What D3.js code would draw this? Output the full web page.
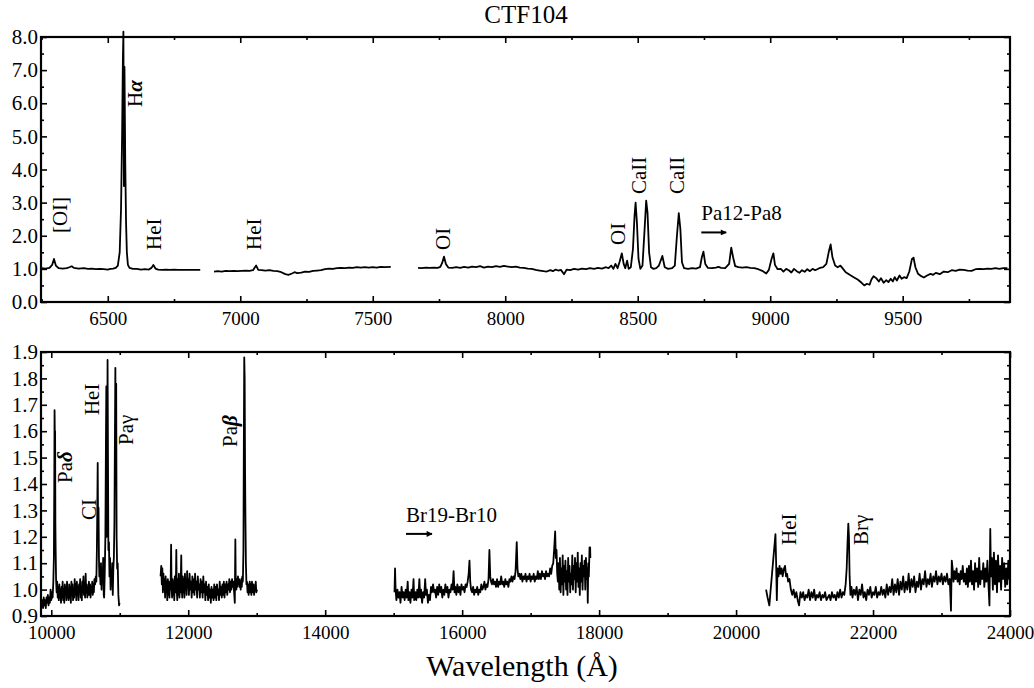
<!DOCTYPE html>
<html><head><meta charset="utf-8">
<script src="https://cdn.jsdelivr.net/npm/d3@7"></script>
<style>
body{margin:0;background:#fff}
text{font-family:"Liberation Serif","Times New Roman",serif;fill:#000}
</style>
</head><body>
<svg id="c" width="1034" height="688"></svg>
<script>
// ---------------- DATA ----------------
// Optical spectrum (top panel): [wavelength (Å), normalised flux]
const opticalSeg1 = [[6250,1.02],[6265,1.01],[6280,1.03],[6290,1.12],[6297,1.30],[6304,1.10],[6315,1.02],[6330,1.01],[6345,1.02],[6355,1.05],[6364,1.08],[6372,1.03],[6390,1.01],[6410,1.02],[6425,1.00],[6440,1.01],[6455,0.99],[6470,1.00],[6485,0.99],[6500,0.98],[6510,1.00],[6520,1.01],[6530,1.03],[6538,1.10],[6545,1.5],[6550,2.8],[6554,5.0],[6557,7.3],[6559,8.16],[6561,3.5],[6563,7.1],[6566,4.2],[6569,2.4],[6572,1.5],[6576,1.12],[6582,1.03],[6595,1.00],[6610,1.00],[6625,0.98],[6640,0.99],[6655,0.98],[6665,1.03],[6672,1.12],[6680,1.01],[6690,0.98],[6705,0.97],[6720,0.98],[6735,0.97],[6750,0.98],[6765,0.97],[6780,0.97],[6800,0.97],[6820,0.97],[6849,0.97]];
const opticalSeg2 = [[6901,0.92],[6915,0.93],[6930,0.92],[6945,0.94],[6960,0.93],[6975,0.94],[6990,0.93],[7005,0.94],[7020,0.95],[7035,0.94],[7048,0.96],[7060,1.10],[7068,0.97],[7080,0.96],[7095,0.95],[7110,0.96],[7125,0.94],[7140,0.93],[7155,0.90],[7170,0.84],[7182,0.82],[7195,0.86],[7205,0.90],[7215,0.87],[7230,0.89],[7245,0.92],[7260,0.91],[7275,0.94],[7290,0.95],[7305,0.96],[7320,0.99],[7335,1.01],[7350,1.00],[7365,1.02],[7380,1.03],[7395,1.02],[7410,1.04],[7425,1.03],[7440,1.05],[7455,1.04],[7470,1.05],[7485,1.04],[7500,1.05],[7515,1.04],[7530,1.06],[7545,1.05],[7568,1.06]];
const opticalSeg3 = [[7671,1.03],[7685,1.02],[7700,1.04],[7715,1.03],[7730,1.04],[7745,1.03],[7755,1.06],[7762,1.18],[7769,1.37],[7776,1.15],[7785,1.04],[7800,1.03],[7815,1.05],[7830,1.03],[7845,1.06],[7860,1.04],[7875,1.07],[7890,1.05],[7905,1.08],[7920,1.04],[7935,1.07],[7950,1.05],[7965,1.08],[7980,1.06],[7995,1.09],[8010,1.07],[8025,1.05],[8040,1.07],[8055,1.04],[8070,1.03],[8085,1.01],[8100,1.00],[8115,0.97],[8130,0.95],[8145,0.93],[8157,0.92],[8170,0.96],[8180,0.93],[8190,0.98],[8200,0.95],[8210,0.97],[8222,0.84],[8232,0.98],[8245,0.96],[8260,1.00],[8275,0.98],[8290,1.01],[8305,0.99],[8320,1.02],[8335,1.00],[8350,1.03],[8365,1.01],[8380,1.05],[8390,1.02],[8400,1.10],[8408,1.00],[8416,1.15],[8424,1.02],[8432,1.22],[8440,1.47],[8447,1.15],[8453,1.02],[8460,1.25],[8466,1.00],[8474,1.05],[8482,1.6],[8488,2.6],[8492,3.0],[8497,2.4],[8503,1.3],[8510,1.00],[8518,1.1],[8526,2.2],[8532,3.06],[8537,2.7],[8543,1.5],[8550,1.05],[8560,1.00],[8570,1.02],[8580,1.10],[8593,1.39],[8602,1.05],[8615,1.00],[8630,1.02],[8640,1.1],[8648,2.0],[8655,2.68],[8661,2.2],[8667,1.2],[8675,1.02],[8690,1.00],[8705,1.02],[8720,1.01],[8735,1.05],[8742,1.35],[8748,1.52],[8755,1.15],[8765,1.03],[8780,1.02],[8795,1.04],[8805,1.06],[8815,1.03],[8830,1.02],[8845,1.15],[8853,1.64],[8860,1.35],[8868,1.08],[8880,1.05],[8895,1.04],[8910,1.05],[8925,1.03],[8940,1.02],[8955,0.99],[8970,0.94],[8985,0.86],[8995,0.97],[9005,1.30],[9012,1.47],[9018,1.12],[9028,0.99],[9040,1.00],[9050,0.92],[9060,1.00],[9070,0.96],[9080,0.89],[9090,1.00],[9100,0.93],[9110,0.88],[9120,0.96],[9130,0.91],[9140,0.99],[9150,0.93],[9160,1.00],[9170,0.96],[9185,1.02],[9200,1.05],[9212,1.15],[9222,1.55],[9228,1.74],[9235,1.35],[9245,1.10],[9255,1.05],[9265,1.10],[9275,1.00],[9285,0.90],[9300,0.82],[9315,0.75],[9330,0.68],[9345,0.58],[9355,0.50],[9365,0.55],[9375,0.52],[9382,0.68],[9390,0.78],[9400,0.72],[9410,0.62],[9418,0.72],[9428,0.58],[9438,0.66],[9446,0.60],[9455,0.70],[9463,0.62],[9470,0.75],[9478,0.65],[9488,0.80],[9496,0.70],[9505,0.75],[9515,0.72],[9525,0.92],[9535,1.30],[9541,1.34],[9548,1.05],[9558,0.85],[9570,0.78],[9580,0.74],[9592,0.80],[9605,0.85],[9615,0.82],[9625,0.88],[9640,0.84],[9655,0.92],[9670,0.90],[9685,0.96],[9700,0.94],[9715,0.98],[9730,0.97],[9745,0.95],[9760,0.94],[9775,0.99],[9790,1.00],[9805,0.99],[9820,1.01],[9835,1.00],[9850,1.02],[9865,1.00],[9880,1.02],[9895,1.02]];

// Near-infrared spectrum (bottom panel)
const nirSegA = [[9850,0.95],[9860,0.94],[9870,0.96],[9880,0.93],[9890,0.97],[9900,0.94],[9910,0.96],[9920,0.93],[9930,0.97],[9940,0.95],[9950,0.98],[9960,0.94],[9970,0.97],[9980,0.95],[9990,1.00],[10000,0.96],[10010,0.99],[10020,0.97],[10030,1.03],[10038,1.12],[10044,1.40],[10048,1.68],[10052,1.58],[10056,1.60],[10060,1.25],[10064,1.15],[10070,1.04],[10078,0.99],[10086,1.03],[10094,0.97],[10102,1.01],[10110,0.96],[10118,1.02],[10126,0.97],[10134,1.00],[10142,0.95],[10150,1.01],[10158,0.97],[10166,1.03],[10174,0.96],[10182,1.00],[10190,0.95],[10198,1.02],[10206,0.98],[10214,1.01],[10222,0.96],[10230,1.03],[10238,0.97],[10246,1.00],[10254,0.96],[10262,1.02],[10270,0.97],[10278,1.01],[10286,0.95],[10294,1.03],[10302,0.98],[10310,1.02],[10318,0.96],[10326,1.00],[10334,0.97],[10342,1.04],[10350,0.98],[10358,1.02],[10366,0.96],[10374,1.03],[10382,0.98],[10390,1.01],[10398,0.96],[10406,1.02],[10414,0.99],[10422,1.04],[10430,0.97],[10438,1.01],[10446,0.96],[10454,1.03],[10462,0.99],[10470,1.05],[10478,0.98],[10486,1.02],[10494,0.97],[10502,1.06],[10510,0.99],[10518,1.02],[10526,0.97],[10534,1.01],[10542,0.98],[10550,1.03],[10558,0.98],[10566,1.02],[10574,0.97],[10582,1.01],[10590,0.99],[10598,1.03],[10606,0.98],[10614,1.02],[10622,0.99],[10630,1.04],[10640,1.02],[10650,1.05],[10658,1.03],[10666,1.15],[10672,1.30],[10678,1.48],[10684,1.20],[10690,1.31],[10696,1.12],[10702,1.05],[10710,1.08],[10718,1.02],[10726,1.10],[10734,1.00],[10742,1.07],[10750,1.03],[10758,1.12],[10766,0.98],[10772,0.97],[10780,1.05],[10790,1.20],[10798,1.55],[10804,1.77],[10810,1.20],[10816,1.40],[10822,1.87],[10828,1.50],[10834,1.15],[10842,1.18],[10850,1.05],[10858,1.12],[10866,1.00],[10874,1.05],[10882,1.02],[10890,1.10],[10898,0.98],[10906,1.08],[10914,1.12],[10922,1.25],[10930,1.60],[10936,1.84],[10942,1.45],[10948,1.78],[10954,1.20],[10962,1.08],[10970,1.10],[10980,0.98],[10990,0.94],[10997,0.95]];
const nirSegB = [[11596,1.05],[11606,1.09],[11614,1.02],[11622,1.08],[11630,0.99],[11638,1.06],[11646,1.00],[11654,1.04],[11662,0.97],[11670,1.05],[11678,0.99],[11686,1.03],[11694,0.96],[11702,1.04],[11710,0.98],[11718,1.03],[11726,0.97],[11734,1.02],[11742,1.00],[11750,1.17],[11756,1.02],[11764,0.97],[11772,1.04],[11780,0.98],[11788,1.03],[11796,0.96],[11804,1.05],[11812,0.99],[11820,1.03],[11826,1.15],[11832,1.00],[11840,0.96],[11848,1.04],[11856,0.98],[11864,1.06],[11872,0.97],[11880,1.03],[11888,0.99],[11898,1.13],[11904,1.01],[11912,0.97],[11920,1.05],[11928,0.99],[11936,1.04],[11944,0.97],[11952,1.06],[11960,1.00],[11968,1.03],[11976,0.98],[11984,1.07],[11992,1.01],[12000,1.04],[12010,0.98],[12020,1.06],[12030,1.00],[12040,1.03],[12050,0.97],[12060,1.05],[12070,0.99],[12080,1.04],[12090,0.98],[12100,1.06],[12110,1.00],[12120,1.03],[12130,0.97],[12140,1.05],[12150,1.00],[12160,1.02],[12170,0.97],[12180,1.04],[12190,0.99],[12200,1.03],[12210,0.97],[12220,1.05],[12230,0.99],[12240,1.02],[12250,0.96],[12260,1.03],[12270,0.98],[12280,1.01],[12290,0.96],[12300,1.02],[12310,0.97],[12320,1.00],[12330,0.95],[12340,1.01],[12350,0.97],[12360,1.00],[12370,0.96],[12380,1.02],[12390,0.97],[12400,1.01],[12410,0.96],[12420,1.02],[12430,0.98],[12440,1.00],[12450,0.96],[12460,1.03],[12470,0.98],[12480,1.01],[12490,0.97],[12500,1.02],[12510,0.98],[12520,1.03],[12530,0.97],[12540,1.02],[12550,0.99],[12560,1.03],[12570,0.98],[12580,1.02],[12590,1.00],[12600,1.04],[12610,0.99],[12620,1.03],[12630,1.00],[12640,1.04],[12650,1.01],[12660,1.03],[12670,0.99],[12680,0.95],[12688,1.19],[12694,1.02],[12702,1.00],[12710,1.04],[12718,1.01],[12726,1.05],[12734,1.02],[12742,1.04],[12750,1.01],[12758,1.03],[12766,1.00],[12774,1.04],[12782,1.01],[12790,1.05],[12798,1.03],[12806,1.15],[12812,1.55],[12818,1.88],[12824,1.80],[12830,1.45],[12836,1.25],[12842,1.10],[12850,1.02],[12858,1.03],[12866,0.99],[12874,1.02],[12882,0.98],[12890,1.01],[12898,1.03],[12906,0.99],[12914,1.02],[12922,0.98],[12930,1.03],[12938,1.00],[12946,0.99],[12954,1.02],[12962,0.98],[12970,1.01],[12978,1.00],[12986,1.03],[12994,0.99],[13005,1.00]];
const nirSegC = [[15012,0.99],[15020,1.08],[15028,1.00],[15040,0.96],[15055,1.00],[15070,0.97],[15085,0.99],[15100,0.95],[15115,1.01],[15130,0.97],[15145,0.99],[15160,0.96],[15175,1.00],[15190,0.97],[15205,1.03],[15215,0.96],[15230,0.99],[15245,0.95],[15260,1.00],[15275,0.97],[15290,1.04],[15300,0.96],[15315,0.99],[15330,0.96],[15345,1.00],[15360,0.97],[15375,1.04],[15388,0.97],[15400,1.00],[15415,0.95],[15430,0.99],[15445,0.97],[15460,1.04],[15472,0.98],[15485,1.00],[15500,0.95],[15515,0.98],[15530,0.96],[15545,1.01],[15560,0.99],[15575,1.02],[15590,0.99],[15605,1.00],[15620,0.97],[15635,1.01],[15650,0.98],[15665,1.02],[15680,0.99],[15695,1.01],[15710,0.97],[15725,1.00],[15740,0.98],[15755,1.02],[15770,0.99],[15785,1.01],[15800,0.97],[15815,1.00],[15830,0.99],[15845,1.02],[15860,1.00],[15875,1.07],[15888,0.99],[15900,1.01],[15915,0.98],[15930,1.02],[15945,0.99],[15960,1.01],[15975,0.98],[15990,1.02],[16005,1.00],[16020,1.01],[16035,0.99],[16050,1.02],[16065,1.01],[16080,1.03],[16095,1.06],[16107,1.11],[16118,1.03],[16130,1.00],[16145,0.99],[16160,1.01],[16175,0.98],[16190,1.00],[16205,0.99],[16220,1.01],[16235,0.98],[16250,1.00],[16265,0.99],[16280,1.02],[16295,1.00],[16310,1.01],[16325,1.03],[16340,1.00],[16355,1.02],[16370,1.01],[16385,1.04],[16398,1.15],[16410,1.05],[16422,1.03],[16435,1.02],[16450,1.04],[16465,1.02],[16480,1.03],[16495,1.01],[16510,1.04],[16525,1.01],[16540,1.03],[16555,1.02],[16570,1.05],[16585,1.02],[16600,1.03],[16615,1.01],[16630,1.04],[16645,1.02],[16660,1.03],[16675,1.01],[16690,1.04],[16705,1.03],[16720,1.05],[16735,1.03],[16750,1.05],[16765,1.04],[16780,1.07],[16797,1.18],[16808,1.08],[16820,1.05],[16835,1.06],[16850,1.04],[16865,1.06],[16880,1.03],[16895,1.05],[16910,1.04],[16925,1.06],[16940,1.03],[16955,1.05],[16970,1.04],[16985,1.06],[17000,1.03],[17015,1.05],[17030,1.04],[17045,1.06],[17060,1.03],[17075,1.05],[17090,1.04],[17105,1.07],[17120,1.04],[17135,1.06],[17150,1.04],[17165,1.07],[17180,1.05],[17195,1.06],[17210,1.04],[17225,1.07],[17240,1.05],[17255,1.06],[17270,1.05],[17285,1.08],[17300,1.06],[17315,1.09],[17330,1.10],[17345,1.16],[17358,1.22],[17368,1.12],[17378,1.15],[17388,1.06],[17398,1.03],[17408,1.10],[17418,1.00],[17428,1.12],[17438,0.99],[17448,1.08],[17458,1.02],[17468,1.13],[17478,0.98],[17488,1.09],[17498,1.03],[17508,1.11],[17518,1.00],[17528,1.07],[17538,0.98],[17548,1.12],[17558,1.03],[17568,1.09],[17578,0.99],[17588,1.06],[17598,1.02],[17608,1.13],[17618,1.00],[17628,1.09],[17638,1.04],[17648,1.12],[17658,0.99],[17668,1.10],[17678,1.03],[17688,1.14],[17698,1.01],[17708,1.08],[17718,0.98],[17728,1.10],[17738,1.03],[17748,1.13],[17758,1.00],[17768,1.09],[17778,1.05],[17788,1.11],[17798,1.00],[17808,1.12],[17818,1.04],[17828,1.08],[17834,0.95],[17842,1.10],[17850,1.05],[17860,1.16],[17869,1.16],[17872,1.12]];
const nirSegD = [[20438,1.00],[20460,0.97],[20486,0.94],[20505,1.00],[20525,1.06],[20545,1.12],[20565,1.18],[20575,1.21],[20585,1.10],[20595,0.96],[20605,1.08],[20620,1.05],[20635,1.09],[20650,1.06],[20665,1.08],[20680,1.05],[20700,1.08],[20715,1.09],[20730,1.05],[20745,1.06],[20760,1.03],[20780,1.04],[20800,1.00],[20820,0.98],[20840,1.00],[20860,0.97],[20880,0.99],[20900,0.96],[20920,0.94],[20940,0.99],[20960,0.97],[20980,0.99],[21000,0.96],[21020,0.98],[21040,0.97],[21060,1.00],[21080,0.96],[21100,0.99],[21120,0.97],[21140,1.00],[21160,0.96],[21180,0.98],[21200,0.97],[21220,0.99],[21240,0.96],[21260,0.98],[21280,0.97],[21300,0.99],[21320,0.96],[21340,0.97],[21360,0.98],[21380,0.96],[21400,0.99],[21420,0.97],[21440,0.98],[21460,0.96],[21480,0.99],[21500,0.97],[21520,1.00],[21540,0.97],[21560,0.99],[21580,0.98],[21600,1.02],[21615,1.08],[21628,1.18],[21639,1.25],[21648,1.20],[21658,1.05],[21670,0.98],[21685,1.01],[21700,0.97],[21720,1.00],[21740,0.98],[21760,1.01],[21780,0.96],[21800,1.00],[21820,0.98],[21840,1.02],[21860,0.97],[21880,0.99],[21900,0.96],[21920,1.00],[21940,0.98],[21960,1.01],[21980,0.97],[22000,0.99],[22020,0.98],[22040,1.01],[22060,0.97],[22080,0.99],[22100,0.98],[22120,1.01],[22140,0.98],[22160,1.00],[22180,0.97],[22200,1.02],[22220,0.98],[22240,1.01],[22260,0.99],[22280,1.04],[22300,0.98],[22320,1.02],[22340,0.99],[22360,1.04],[22380,0.98],[22400,1.03],[22420,1.00],[22440,1.05],[22460,0.99],[22480,1.03],[22500,1.00],[22520,1.06],[22540,0.99],[22560,1.04],[22580,1.01],[22600,1.05],[22620,0.99],[22640,1.03],[22660,1.01],[22680,1.06],[22700,1.00],[22720,1.04],[22740,1.02],[22760,1.07],[22780,1.01],[22800,1.04],[22820,1.02],[22840,1.06],[22860,1.01],[22880,1.05],[22900,1.03],[22920,1.07],[22940,1.02],[22960,1.05],[22980,1.03],[23000,1.06],[23020,1.02],[23040,1.05],[23060,1.03],[23080,1.06],[23100,1.02],[23120,1.04],[23138,0.92],[23150,1.11],[23162,1.08],[23175,1.03],[23190,1.07],[23205,1.04],[23220,1.08],[23235,1.03],[23250,1.06],[23265,1.02],[23280,1.07],[23295,1.04],[23310,1.09],[23325,1.03],[23340,1.06],[23355,1.02],[23370,1.08],[23385,1.01],[23400,1.09],[23415,1.03],[23430,1.11],[23445,1.02],[23460,1.07],[23475,1.00],[23490,1.10],[23505,1.03],[23520,1.08],[23535,1.01],[23550,1.12],[23565,1.02],[23580,1.07],[23595,1.04],[23610,1.10],[23625,1.01],[23640,1.08],[23655,1.03],[23670,1.11],[23685,1.02],[23700,0.94],[23712,1.23],[23722,1.05],[23735,1.12],[23750,1.00],[23765,1.14],[23780,1.02],[23795,1.11],[23810,0.99],[23825,1.13],[23840,1.03],[23855,1.09],[23870,1.00],[23885,1.12],[23900,1.04],[23915,1.10],[23930,1.01],[23945,1.08],[23960,1.02],[23975,1.11],[23990,1.04],[24000,1.07]];

// Axis tick values
const topXMajor = [6500,7000,7500,8000,8500,9000,9500];
const topXMinor = [6250,6750,7250,7750,8250,8750,9250,9750];
const topYMajor = [0,1,2,3,4,5,6,7,8];
const topYMinor = [0.5,1.5,2.5,3.5,4.5,5.5,6.5,7.5];
const botXMajor = [10000,12000,14000,16000,18000,20000,22000,24000];
const botXMinor = [11000,13000,15000,17000,19000,21000,23000];
const botYMajor = [0.9,1.0,1.1,1.2,1.3,1.4,1.5,1.6,1.7,1.8,1.9];
const botYMinor = [0.95,1.05,1.15,1.25,1.35,1.45,1.55,1.65,1.75,1.85];

// Line identifications: text, wavelength & flux of label anchor (data units), optional greek suffix
const topLabels = [
  {t:"[OI]", w:6346, f:2.08},
  {t:"H", g:"α", w:6629, f:5.89},
  {t:"HeI", w:6700, f:1.57},
  {t:"HeI", w:7077, f:1.57},
  {t:"OI", w:7790, f:1.57},
  {t:"OI", w:8453, f:1.72},
  {t:"CaII", w:8532, f:3.26},
  {t:"CaII", w:8675, f:3.26}
];
const topSeries = [{t:"Pa12-Pa8", w:8740, f:2.48, w2:8834, fa:2.10}];
const botLabels = [
  {t:"Pa", g:"δ", w:10303, f:1.404},
  {t:"CI", w:10653, f:1.264},
  {t:"HeI", w:10697, f:1.661},
  {t:"Pa", g:"γ", gi:false, w:11193, f:1.548},
  {t:"Pa", g:"β", w:12712, f:1.540},
  {t:"HeI", w:20875, f:1.169},
  {t:"Br", g:"γ", gi:false, w:21926, f:1.169}
];
const botSeries = [{t:"Br19-Br10", w:15180, f:1.257, w2:15560, fa:1.211}];

// ---------------- DRAW ----------------
const svg = d3.select("#c");
svg.append("defs").append("marker").attr("id","ah").attr("viewBox","0 0 10 10")
  .attr("refX",9).attr("refY",5).attr("markerWidth",9).attr("markerHeight",6)
  .attr("markerUnits","userSpaceOnUse").attr("orient","auto")
  .append("path").attr("d","M0,0L10,5L0,10Z").attr("fill","#000");

function panel(cfg){
  const L=41, R=1010;
  const g = svg.append("g");
  const x = d3.scaleLinear().domain(cfg.xDom).range([L,R]);
  const y = d3.scaleLinear().domain(cfg.yDom).range([cfg.bottom,cfg.top]);
  const fmtX = d3.format("d"), fmtY = d3.format(".1f");
  const st = a => { a.select(".domain").remove(); a.selectAll("line").attr("stroke","#000").attr("stroke-width",1.6); };

  g.append("g").attr("transform",`translate(0,${cfg.bottom})`)
    .call(d3.axisBottom(x).tickValues(cfg.xMaj).tickSize(-6).tickPadding(10).tickFormat(fmtX))
    .call(st).call(a=>a.selectAll("text").attr("font-size",19).attr("font-family","Liberation Serif"));
  g.append("g").attr("transform",`translate(0,${cfg.bottom})`)
    .call(d3.axisBottom(x).tickValues(cfg.xMin).tickSize(-3).tickFormat("")).call(st);
  g.append("g").attr("transform",`translate(0,${cfg.top})`)
    .call(d3.axisTop(x).tickValues(cfg.xMaj).tickSize(-6).tickFormat("")).call(st);
  g.append("g").attr("transform",`translate(0,${cfg.top})`)
    .call(d3.axisTop(x).tickValues(cfg.xMin).tickSize(-3).tickFormat("")).call(st);
  g.append("g").attr("transform",`translate(${L},0)`)
    .call(d3.axisLeft(y).tickValues(cfg.yMaj).tickSize(-6).tickPadding(3).tickFormat(fmtY))
    .call(st).call(a=>a.selectAll("text").attr("font-size",21).attr("font-family","Liberation Serif"));
  g.append("g").attr("transform",`translate(${L},0)`)
    .call(d3.axisLeft(y).tickValues(cfg.yMin).tickSize(-3).tickFormat("")).call(st);
  g.append("g").attr("transform",`translate(${R},0)`)
    .call(d3.axisRight(y).tickValues(cfg.yMaj).tickSize(-6).tickFormat("")).call(st);
  g.append("g").attr("transform",`translate(${R},0)`)
    .call(d3.axisRight(y).tickValues(cfg.yMin).tickSize(-3).tickFormat("")).call(st);

  g.append("rect").attr("x",L).attr("y",cfg.top).attr("width",R-L).attr("height",cfg.bottom-cfg.top)
    .attr("fill","none").attr("stroke","#000").attr("stroke-width",2.2);

  const line = d3.line().x(d=>x(d[0])).y(d=>y(d[1]));
  g.selectAll("path.spec").data(cfg.segs).join("path").attr("class","spec")
    .attr("d",line).attr("fill","none").attr("stroke","#000")
    .attr("stroke-width",1.8).attr("stroke-linejoin","round");

  cfg.labels.forEach(l=>{
    const t = g.append("text").attr("transform",`translate(${x(l.w)},${y(l.f)}) rotate(-90)`)
      .attr("font-size",21).attr("text-anchor","start");
    t.append("tspan").text(l.t);
    if(l.g){ t.append("tspan").text(l.g).attr("font-style", l.gi===false?"normal":"italic").attr("font-weight", l.gi===false?"normal":"bold"); }
  });
  cfg.series.forEach(s=>{
    g.append("text").attr("x",x(s.w)).attr("y",y(s.f)).attr("font-size",21).text(s.t);
    g.append("line").attr("x1",x(s.w)).attr("x2",x(s.w2)).attr("y1",y(s.fa)).attr("y2",y(s.fa))
      .attr("stroke","#000").attr("stroke-width",2).attr("marker-end","url(#ah)");
  });
}

panel({xDom:[6248,9905], yDom:[0,8], top:37, bottom:302,
  xMaj:topXMajor, xMin:topXMinor, yMaj:topYMajor, yMin:topYMinor,
  segs:[opticalSeg1,opticalSeg2,opticalSeg3], labels:topLabels, series:topSeries});
panel({xDom:[9850,24000], yDom:[0.9,1.9], top:352, bottom:616,
  xMaj:botXMajor, xMin:botXMinor, yMaj:botYMajor, yMin:botYMinor,
  segs:[nirSegA,nirSegB,nirSegC,nirSegD], labels:botLabels, series:botSeries});

svg.append("text").attr("x",526).attr("y",23).attr("text-anchor","middle").attr("font-size",25).text("CTF104");
svg.append("text").attr("x",522).attr("y",676).attr("text-anchor","middle").attr("font-size",30).text("Wavelength (Å)");
</script>
</body></html>
